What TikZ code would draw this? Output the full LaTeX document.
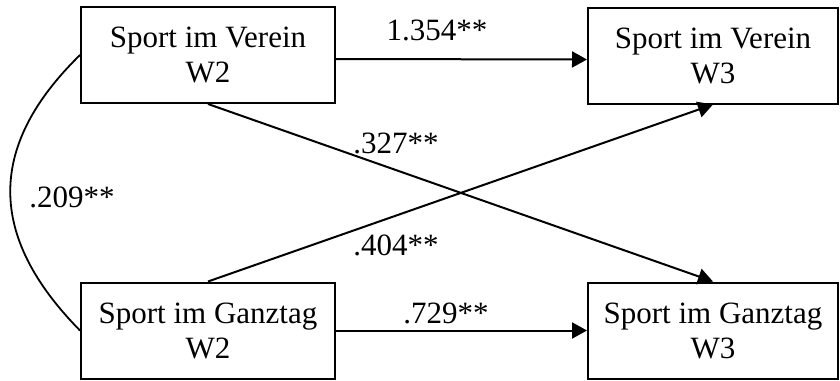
\documentclass[tikz,border=0pt]{standalone}
\usepackage{fontspec}
\setmainfont{Liberation Serif}
\usetikzlibrary{arrows.meta}
\begin{document}
\begin{tikzpicture}[x=1pt,y=-1pt,
  var/.style={draw, line width=2pt, minimum width=254pt, minimum height=96pt, inner sep=0pt, align=center, font=\fontsize{31}{35}\selectfont},
  conn/.style={line width=2pt, -{Triangle[length=15pt,width=16pt]}},
  lab/.style={font=\fontsize{31}{35}\selectfont, inner sep=0pt, anchor=base}]
\useasboundingbox (0,0) rectangle (840,380);
\node[var] (tl) at (208,55) {Sport im Verein\\W2};
\node[var, minimum width=250pt] (tr) at (713,55.5) {Sport im Verein\\W3};
\node[var] (bl) at (208,330.5) {Sport im Ganztag\\W2};
\node[var, minimum width=250pt] (br) at (713,330.5) {Sport im Ganztag\\W3};
\draw[conn] ([yshift=-4pt]tl.east) -- ([yshift=-4pt]tr.west);
\draw[conn] (bl.east) -- (br.west);
\draw[conn] (tl.south) -- (br.north);
\draw[conn] (bl.north) -- (tr.south);
\draw[line width=1.8pt] (tl.west) .. controls (-13,146) and (-13,236) .. (bl.west);
\node[lab] (l1) at (437,40) {1.354**};
\node[lab] (l2) at (396,153) {.327**};
\node[lab] (l3) at (396,255) {.404**};
\node[lab] (l4) at (446,323) {.729**};
\node[lab] (l5) at (72,207) {.209**};
\end{tikzpicture}
\end{document}
